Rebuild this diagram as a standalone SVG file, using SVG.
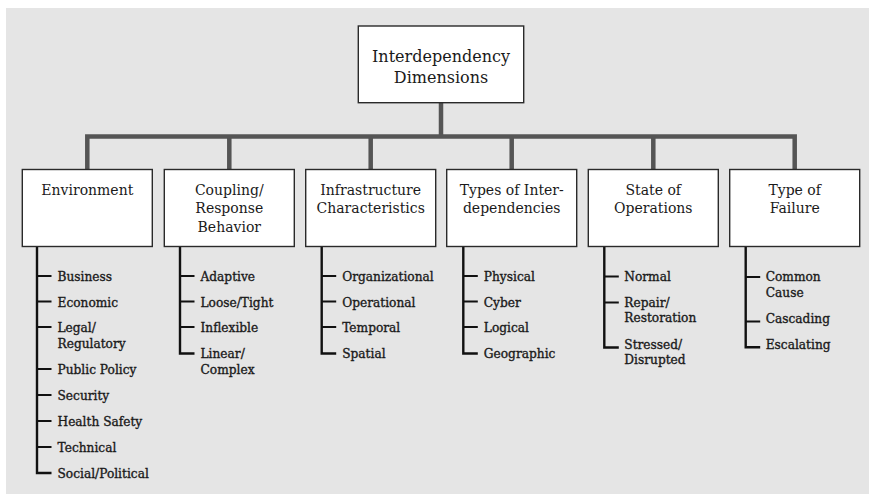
<svg xmlns="http://www.w3.org/2000/svg" width="874" height="497" viewBox="0 0 874 497">
<style>
.bg{fill:#e5e5e5}
.box{fill:#fff;stroke:#2a2a2a;stroke-width:1.4}
.bus{fill:none;stroke:#555;stroke-width:4.5;stroke-linejoin:miter;stroke-linecap:square}
.br{fill:none;stroke:#111;stroke-width:2.4}
.tk{fill:none;stroke:#111;stroke-width:2}
.top{font-family:"DejaVu Serif","Liberation Serif",serif;font-size:16px;fill:#1a1a1a;text-anchor:middle}
.cat{font-family:"DejaVu Serif","Liberation Serif",serif;font-size:14px;fill:#1a1a1a;text-anchor:middle}
.it{font-family:"DejaVu Serif","Liberation Serif",serif;font-size:12.2px;fill:#1a1a1a;stroke:#1a1a1a;stroke-width:0.35}
</style>
<rect class="bg" x="6" y="8" width="863" height="486"/>

<g id="connectors">
<path class="bus" d="M441 102.7 V136.5 M87.3 169 V136.5 H794.7 V169 M229.3 136.5 V169 M370.7 136.5 V169 M511.7 136.5 V169 M653.3 136.5 V169"/>
<path class="br" d="M37 246.5 V473 H51.5"/>
<path class="tk" d="M37 276 H51.5 M37 301.5 H51.5 M37 327 H51.5 M37 369 H51.5 M37 395 H51.5 M37 421 H51.5 M37 447 H51.5"/>
<path class="br" d="M180 246.5 V353.5 H194.5"/>
<path class="tk" d="M180 276 H194.5 M180 301.5 H194.5 M180 327 H194.5"/>
<path class="br" d="M321.7 246.5 V353.5 H336.2"/>
<path class="tk" d="M321.7 276 H336.2 M321.7 301.5 H336.2 M321.7 327 H336.2"/>
<path class="br" d="M463.3 246.5 V353.5 H477.8"/>
<path class="tk" d="M463.3 276 H477.8 M463.3 301.5 H477.8 M463.3 327 H477.8"/>
<path class="br" d="M604.3 246.5 V347.5 H618.8"/>
<path class="tk" d="M604.3 276.5 H618.8 M604.3 302.5 H618.8"/>
<path class="br" d="M745.7 246.5 V347.3 H760.2"/>
<path class="tk" d="M745.7 277 H760.2 M745.7 321.5 H760.2"/>
</g>

<g id="root">
<rect class="box" x="358.3" y="26" width="165.4" height="76.7"/>
<text class="top" x="441" y="62">Interdependency</text>
<text class="top" x="441" y="82.5">Dimensions</text>
</g>

<g id="environment">
<rect class="box" x="22.3" y="169.5" width="130" height="77"/>
<text class="cat" x="87.3" y="195">Environment</text>
<text class="it" x="57.5" y="281">Business</text>
<text class="it" x="57.5" y="306.5">Economic</text>
<text class="it" x="57.5" y="332">Legal/</text>
<text class="it" x="57.5" y="347.5">Regulatory</text>
<text class="it" x="57.5" y="374">Public Policy</text>
<text class="it" x="57.5" y="400">Security</text>
<text class="it" x="57.5" y="426">Health Safety</text>
<text class="it" x="57.5" y="452">Technical</text>
<text class="it" x="57.5" y="478">Social/Political</text>
</g>

<g id="coupling">
<rect class="box" x="164.3" y="169.5" width="130" height="77"/>
<text class="cat" x="229.3" y="195">Coupling/</text>
<text class="cat" x="229.3" y="213.3">Response</text>
<text class="cat" x="229.3" y="231.7">Behavior</text>
<text class="it" x="200.5" y="281">Adaptive</text>
<text class="it" x="200.5" y="306.5">Loose/Tight</text>
<text class="it" x="200.5" y="332">Inflexible</text>
<text class="it" x="200.5" y="358">Linear/</text>
<text class="it" x="200.5" y="373.5">Complex</text>
</g>

<g id="infrastructure">
<rect class="box" x="305.7" y="169.5" width="130" height="77"/>
<text class="cat" x="370.7" y="195">Infrastructure</text>
<text class="cat" x="370.7" y="213.3">Characteristics</text>
<text class="it" x="342.2" y="281">Organizational</text>
<text class="it" x="342.2" y="306.5">Operational</text>
<text class="it" x="342.2" y="332">Temporal</text>
<text class="it" x="342.2" y="358">Spatial</text>
</g>

<g id="types">
<rect class="box" x="446.7" y="169.5" width="130" height="77"/>
<text class="cat" x="511.7" y="195">Types of Inter-</text>
<text class="cat" x="511.7" y="213.3">dependencies</text>
<text class="it" x="483.8" y="281">Physical</text>
<text class="it" x="483.8" y="306.5">Cyber</text>
<text class="it" x="483.8" y="332">Logical</text>
<text class="it" x="483.8" y="358">Geographic</text>
</g>

<g id="state">
<rect class="box" x="588.3" y="169.5" width="130" height="77"/>
<text class="cat" x="653.3" y="195">State of</text>
<text class="cat" x="653.3" y="213.3">Operations</text>
<text class="it" x="624.3" y="281">Normal</text>
<text class="it" x="624.3" y="307">Repair/</text>
<text class="it" x="624.3" y="322.3">Restoration</text>
<text class="it" x="624.3" y="349">Stressed/</text>
<text class="it" x="624.3" y="364">Disrupted</text>
</g>

<g id="failure">
<rect class="box" x="729.7" y="169.5" width="130" height="77"/>
<text class="cat" x="794.7" y="195">Type of</text>
<text class="cat" x="794.7" y="213.3">Failure</text>
<text class="it" x="765.7" y="281">Common</text>
<text class="it" x="765.7" y="297">Cause</text>
<text class="it" x="765.7" y="323">Cascading</text>
<text class="it" x="765.7" y="349">Escalating</text>
</g>
</svg>
